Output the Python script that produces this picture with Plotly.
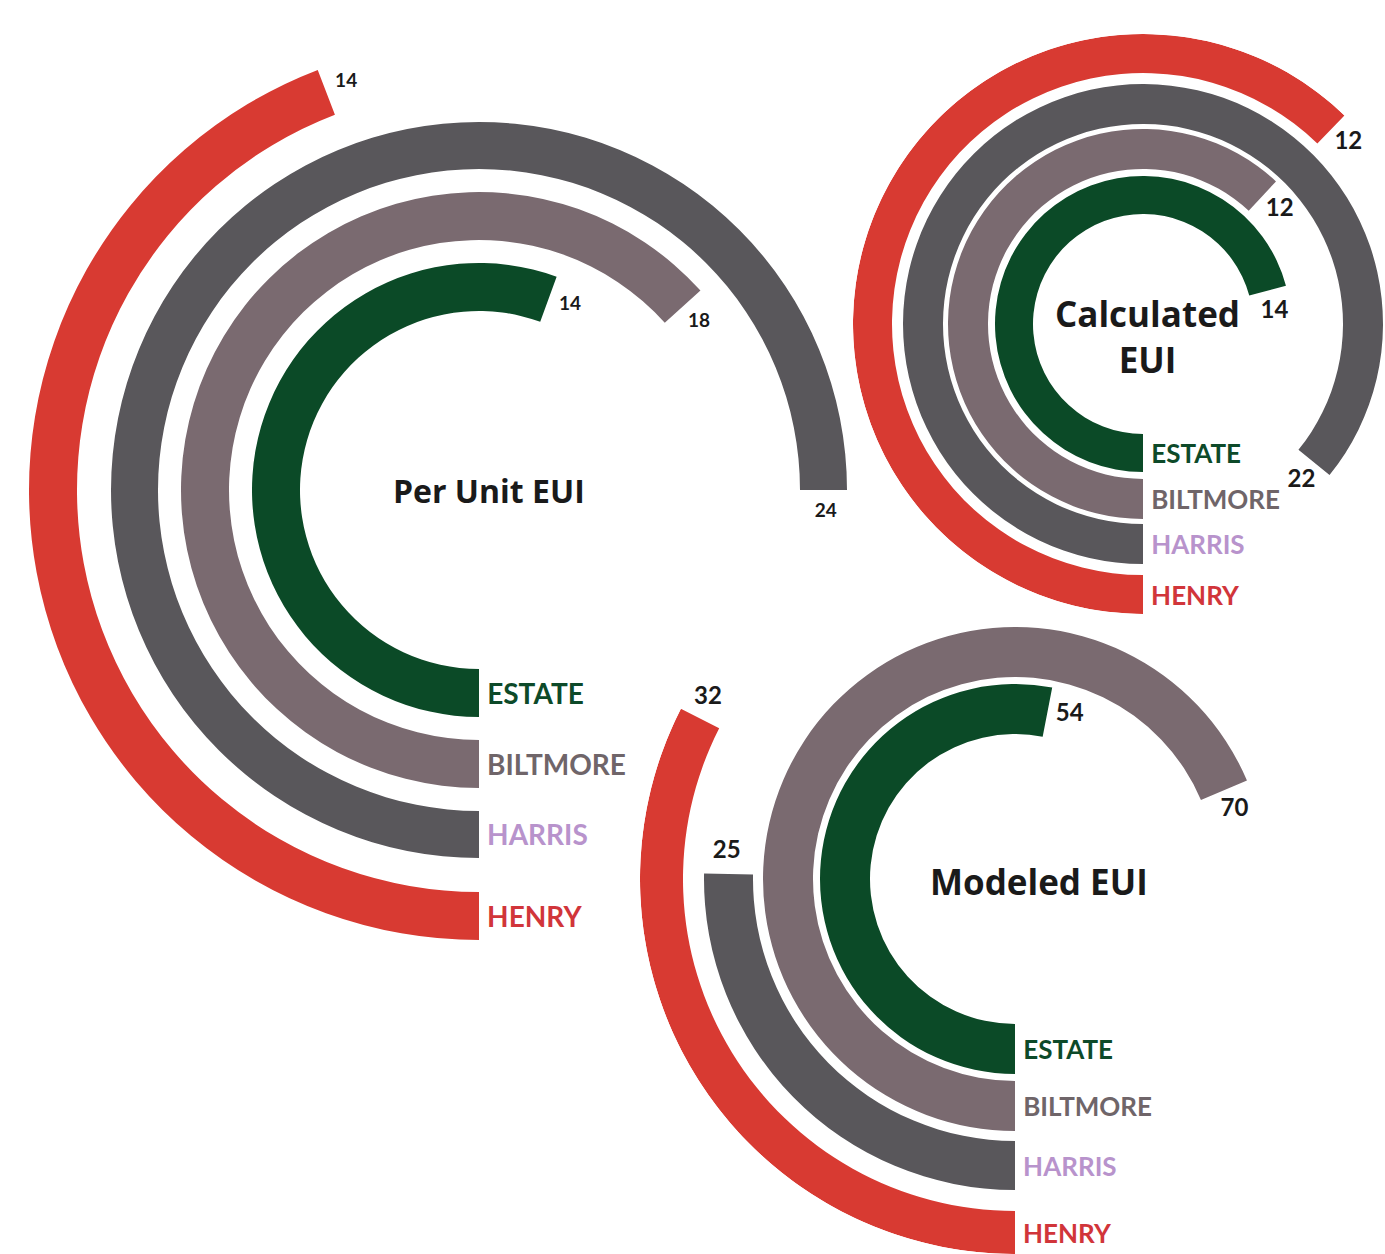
import math
import plotly.graph_objects as go

# ---------------- data ----------------
categories = ["ESTATE", "BILTMORE", "HARRIS", "HENRY"]

per_unit_values = [14, 18, 24, 14]
per_unit_arc_deg = [200, 228, 270, 159]        # drawn arc length, degrees clockwise from bottom

calculated_values = [14, 12, 22, 12]
calculated_arc_deg = [255, 223, 309, 224]

modeled_values = [54, 70, 25, 32]
modeled_arc_deg = [191, 247, 91, 117]

# ---------------- styles / layout ----------------
BAR_COLORS = ["#0b4a27", "#7a6a70", "#59575b", "#d83a32"]
LABEL_COLORS = ["#0d4a29", "#6f6569", "#b893cc", "#d1353a"]
W, H = 1385, 1254
FONT = "Lato"
TITLE_FONT = "Open Sans"

groups = [
    dict(title="Per Unit EUI", values=per_unit_values, arcs=per_unit_arc_deg,
         center=(479, 490), rings=[(179, 227), (250, 298), (321, 368), (402, 450)],
         panes=[(460, None, [0, 1, 2, 3])], title_offset=(10, 0), title_size=32,
         cat_size=28, val_size=19),
    dict(title="Calculated<br>EUI", values=calculated_values, arcs=calculated_arc_deg,
         center=(1143, 324), rings=[(110, 148), (155, 195), (200, 240), (251, 290)],
         panes=[(241, None, [0, 1, 2]), (290, (36, 275), [3])], title_offset=(4, 12),
         title_size=35, cat_size=26, val_size=24),
    dict(title="Modeled EUI", values=modeled_values, arcs=modeled_arc_deg,
         center=(1015, 879), rings=[(145, 195), (202, 252), (262, 311), (332, 375)],
         panes=[(375, (14, 275), [0, 1, 2, 3])], title_offset=(24, 2), title_size=35,
         cat_size=26, val_size=24),
]


def sector_bbox(sector):
    if sector is None:
        return (-1.0, -1.0, 1.0, 1.0)
    a0, a1 = sector
    pts = [(0.0, 0.0),
           (math.cos(math.radians(a0)), math.sin(math.radians(a0))),
           (math.cos(math.radians(a1)), math.sin(math.radians(a1)))]
    for k in range(-720, 721, 90):
        if a0 <= k <= a1:
            pts.append((math.cos(math.radians(k)), math.sin(math.radians(k))))
    xs = [p[0] for p in pts]
    ys = [p[1] for p in pts]
    return (min(xs), min(ys), max(xs), max(ys))


def clamp(v):
    return max(0.0, min(1.0, v))


fig = go.Figure()
layout_polars = {}
annotations = []
pane_id = 0

for g in groups:
    cx, cy = g["center"]
    for (R, sector, idxs) in g["panes"]:
        pane_id += 1
        name = "polar" if pane_id == 1 else f"polar{pane_id}"
        bx0, by0, bx1, by1 = sector_bbox(sector)
        dom_x = [clamp((cx + R * bx0) / W), clamp((cx + R * bx1) / W)]
        dom_y = [clamp(1 - (cy - R * by0) / H), clamp(1 - (cy - R * by1) / H)]
        pol = dict(
            domain=dict(x=dom_x, y=dom_y),
            bgcolor="rgba(0,0,0,0)",
            radialaxis=dict(visible=False, range=[0, R], autorange=False),
            angularaxis=dict(visible=False, rotation=-90, direction="clockwise"),
        )
        if sector is not None:
            pol["sector"] = list(sector)
        layout_polars[name] = pol

        # bars
        fig.add_trace(go.Barpolar(
            subplot=name,
            theta=[g["arcs"][i] / 2 for i in idxs],
            width=[g["arcs"][i] for i in idxs],
            base=[g["rings"][i][0] for i in idxs],
            r=[g["rings"][i][1] - g["rings"][i][0] for i in idxs],
            marker=dict(color=[BAR_COLORS[i] for i in idxs], line=dict(width=0)),
            showlegend=False, hoverinfo="skip",
        ))

        # value labels just beyond the end of each arc
        rm = [(g["rings"][i][0] + g["rings"][i][1]) / 2 for i in idxs]
        fig.add_trace(go.Scatterpolar(
            subplot=name, mode="text",
            r=[r + 3 for r in rm],
            theta=[g["arcs"][i] + math.degrees(22 / r) for i, r in zip(idxs, rm)],
            text=[str(g["values"][i]) for i in idxs],
            textposition="middle center",
            textfont=dict(family=FONT, size=g["val_size"], color="#1a1a1a", weight=700),
            cliponaxis=False, showlegend=False, hoverinfo="skip",
        ))

        # category labels at the start of each arc
        fig.add_trace(go.Scatterpolar(
            subplot=name, mode="text",
            r=[r + 4 for r in rm],
            theta=[-math.degrees(8 / r) for r in rm],
            text=[categories[i] for i in idxs],
            textposition="middle right",
            textfont=dict(family=FONT, size=g["cat_size"],
                          color=[LABEL_COLORS[i] for i in idxs], weight=700),
            cliponaxis=False, showlegend=False, hoverinfo="skip",
        ))

    dx, dy = g["title_offset"]
    annotations.append(dict(
        x=(cx + dx) / W, y=1 - (cy + dy) / H, xref="paper", yref="paper",
        text=g["title"], showarrow=False, xanchor="center", yanchor="middle",
        font=dict(family=TITLE_FONT, size=g["title_size"], color="#1a1a1a", weight=700),
    ))

fig.update_layout(
    width=W, height=H,
    margin=dict(l=0, r=0, t=0, b=0),
    paper_bgcolor="white", plot_bgcolor="white",
    showlegend=False,
    annotations=annotations,
    **layout_polars,
)

fig.write_html("out.html")
